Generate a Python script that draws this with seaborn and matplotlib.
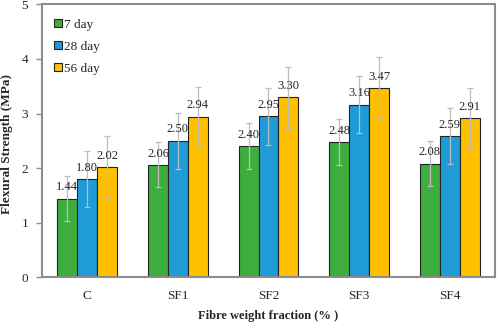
import numpy as np
import pandas as pd
import matplotlib
matplotlib.use("Agg")
import matplotlib.pyplot as plt
import seaborn as sns

# dati
MIXES = ["C", "SF1", "SF2", "SF3", "SF4"]
AGES = ["7 day", "28 day", "56 day"]
DAY7 = [1.44, 2.06, 2.40, 2.48, 2.08]
DAY28 = [1.80, 2.50, 2.95, 3.16, 2.59]
DAY56 = [2.02, 2.94, 3.30, 3.47, 2.91]
ERR7 = [0.41, 0.41, 0.42, 0.42, 0.41]
ERR28 = [0.52, 0.51, 0.52, 0.52, 0.52]
ERR56 = [0.57, 0.55, 0.56, 0.56, 0.55]

COLORS = ["#3DAE3D", "#1F9BD7", "#FFC000"]

sns.set_style("white")
plt.rcParams['font.family'] = ['Liberation Serif', 'DejaVu Serif']

df = pd.DataFrame({
    "mix": MIXES * 3,
    "age": [a for a in AGES for _ in MIXES],
    "value": DAY7 + DAY28 + DAY56,
    "err": ERR7 + ERR28 + ERR56,
})

fig = plt.figure(figsize=(4.98, 3.23), dpi=100)
ax = fig.add_axes([0.0843, 0.1415, 0.9097, 0.845])

sns.barplot(data=df, x="mix", y="value", hue="age", order=MIXES, hue_order=AGES,
            palette=COLORS, width=0.66, errorbar=None, edgecolor="#222222",
            linewidth=0.8, saturation=1, ax=ax)

# barre di errore ed etichette
for cont, age in zip(ax.containers, AGES):
    sub = df[df["age"] == age].set_index("mix").loc[MIXES]
    xs = [p.get_x() + p.get_width() / 2 for p in cont.patches]
    ax.errorbar(xs, sub["value"], yerr=sub["err"], fmt="none", ecolor="#BDBDBD",
                elinewidth=0.9, capsize=2.5, capthick=0.9, zorder=5)
    for x, v in zip(xs, sub["value"]):
        ax.annotate(f"{v:.2f}", (x, v), xytext=(0, 6), textcoords="offset points",
                    ha="center", va="baseline", fontsize=9, zorder=6)

ax.set_ylim(0, 5)
ax.set_xlim(-0.5, 4.5)
ax.set_yticks(range(0, 6))
ax.set_xlabel("Fibre weight fraction (% )", fontsize=9, fontweight="bold", labelpad=6)
ax.set_ylabel("Flexural Strength (MPa)", fontsize=9.5, fontweight="bold", labelpad=3)
ax.yaxis.set_label_coords(-0.065, 0.49)
ax.tick_params(axis="y", length=4, width=1, color="#8C8C8C", direction="out",
               labelsize=9.5, pad=6, left=True)
ax.tick_params(axis="x", length=0, labelsize=9.5, pad=9)

for s in ax.spines.values():
    s.set_color("#8C8C8C")
    s.set_linewidth(1.5)
    s.set_visible(True)

handles, labels = ax.get_legend_handles_labels()
for h in handles:
    h.set_edgecolor("#222222")
ax.legend(handles, labels, loc="upper left", bbox_to_anchor=(0.01, 0.975),
          frameon=False, fontsize=9.5, handlelength=0.55, handleheight=0.55,
          handletextpad=0.15, labelspacing=0.75, borderaxespad=0.2)

fig.savefig("out.png", dpi=100)
